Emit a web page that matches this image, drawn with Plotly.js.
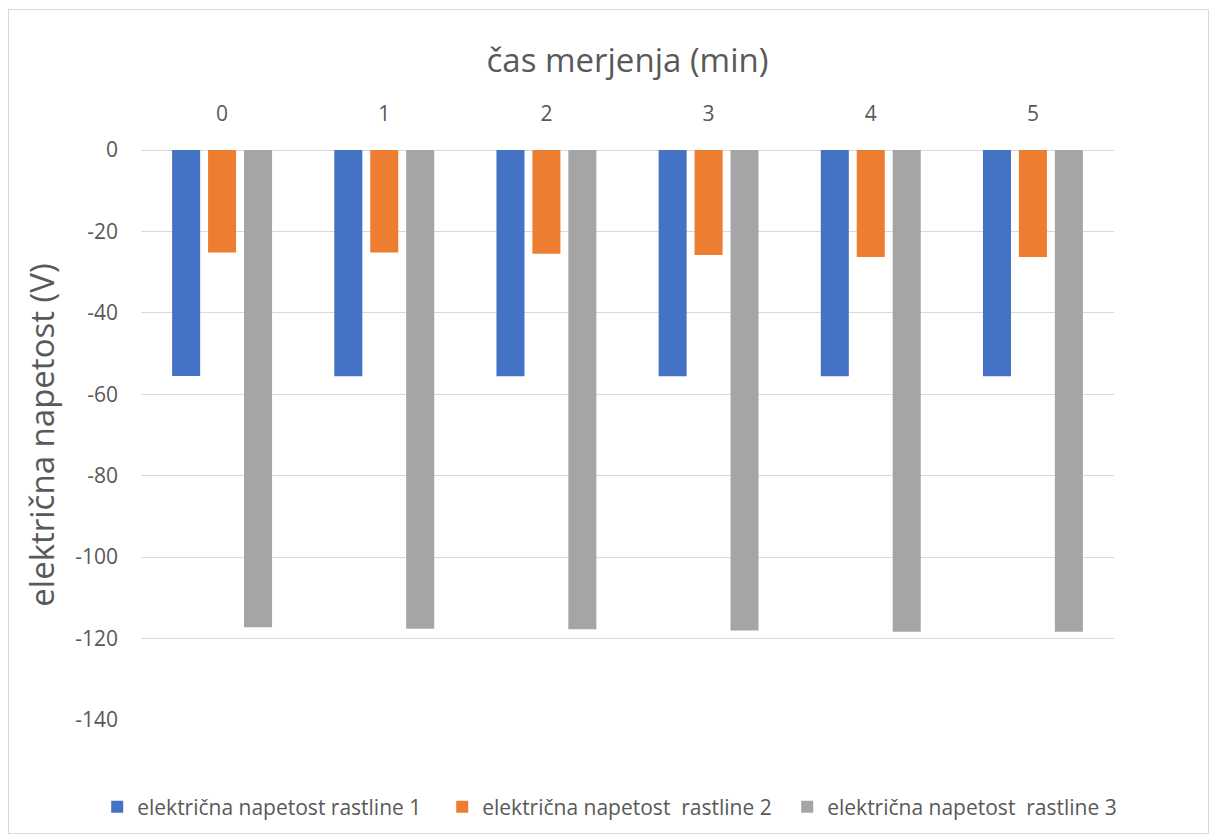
<!DOCTYPE html>
<html>
<head>
<meta charset="utf-8">
<script src="https://cdn.plot.ly/plotly-3.0.1.min.js"></script>
<style>
  html, body { margin: 0; padding: 0; background: #ffffff; }
  #frame {
    position: absolute; left: 8px; top: 9px;
    width: 1201px; height: 825px;
    border: 1px solid #d9d9d9; box-sizing: border-box;
  }
  #chart { width: 100%; height: 100%; }
</style>
</head>
<body>
<div id="frame"><div id="chart"></div></div>
<script>
// Measurement times (minutes)
const times = ['0', '1', '2', '3', '4', '5'];

// Electric voltage per plant (V)
const plant1 = [-55.5, -55.6, -55.6, -55.6, -55.6, -55.6];
const plant2 = [-25.2, -25.2, -25.5, -25.8, -26.3, -26.3];
const plant3 = [-117.2, -117.6, -117.7, -118.0, -118.3, -118.3];

// Voltage axis ticks, written with a plain hyphen
const voltTicks = [0, -20, -40, -60, -80, -100, -120, -140];
const voltTickText = ['0', '-20', '-40', '-60', '-80', '-100', '-120', '-140'];

const seriesNames = [
  'električna napetost rastline 1',
  'električna napetost\u00a0 rastline 2',
  'električna napetost\u00a0 rastline 3'
];
const seriesColors = ['#4472c4', '#ed7d31', '#a5a5a5'];

const textColor = '#595959';
const font = '"Open Sans", "Noto Sans", sans-serif';

const traces = [plant1, plant2, plant3].map((vals, i) => ({
  type: 'bar',
  x: times,
  y: vals,
  name: seriesNames[i],
  marker: { color: seriesColors[i], line: { width: 0 } },
  hoverinfo: 'x+y+name'
}));

const layout = {
  barmode: 'group',
  bargap: 0.335,
  bargroupgap: 0.22,
  paper_bgcolor: '#ffffff',
  plot_bgcolor: '#ffffff',
  font: { family: font, color: textColor, size: 20 },
  // fixed margins: the legend row must not shrink the plot area
  margin: { l: 132, r: 94, t: 140, b: 113, autoexpand: false },
  showlegend: true,
  legend: {
    orientation: 'h',
    // anchored in the left margin so the row may run wider than the plot area
    x: -0.045, xanchor: 'left',
    y: -0.153, yanchor: 'middle',
    font: { family: font, size: 21, color: textColor },
    itemwidth: 30,
    entrywidth: 300,
    entrywidthmode: 'pixels',
    traceorder: 'normal'
  },
  xaxis: {
    type: 'category',
    side: 'top',
    showgrid: false,
    showline: false,
    zeroline: false,
    ticks: '',
    ticklabelstandoff: 24,
    tickfont: { family: font, size: 21, color: textColor },
    title: {
      text: 'čas merjenja (min)',
      font: { family: font, size: 33, color: textColor },
      standoff: 16
    }
  },
  yaxis: {
    range: [-140, 0],
    tickmode: 'array',
    tickvals: voltTicks,
    ticktext: voltTickText,
    showgrid: true,
    gridcolor: '#d9d9d9',
    gridwidth: 1.3,
    zeroline: true,
    zerolinecolor: '#d9d9d9',
    zerolinewidth: 1.3,
    showline: false,
    ticks: '',
    ticklabelstandoff: 22,
    tickfont: { family: font, size: 21, color: textColor },
    title: {
      text: 'električna napetost (V)',
      font: { family: font, size: 33, color: textColor },
      standoff: 10
    }
  }
};

Plotly.newPlot('chart', traces, layout, { displayModeBar: false, responsive: false });
</script>
</body>
</html>
